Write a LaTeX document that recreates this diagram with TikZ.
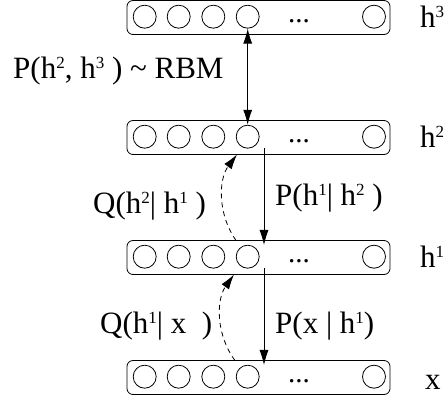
\documentclass[tikz,border=0pt]{standalone}
\usepackage{fontspec}
\setmainfont{Liberation Serif}
\usetikzlibrary{arrows.meta}
\newcommand\supr[1]{\raisebox{10pt}{\fontsize{17}{17}\selectfont #1}}
\begin{document}
\begin{tikzpicture}[x=1pt,y=-1pt,
 layer/.style={draw, rounded corners=6pt, minimum width=263pt, minimum height=34pt, inner sep=0pt, line width=0.8pt},
 unit/.style={draw, circle, minimum size=23pt, inner sep=0pt, line width=0.8pt},
 txt/.style={font=\fontsize{31}{34}\selectfont, inner sep=0pt, anchor=base west},
 dotsn/.style={font=\fontsize{29}{32}\selectfont, inner sep=0pt, anchor=base},
 tip/.style={-{Latex[length=15pt,width=9pt]}, line width=0.8pt},
 dbl/.style={{Latex[length=15pt,width=9pt]}-{Latex[length=15pt,width=9pt]}, line width=0.8pt},
 dtip/.style={tip, dash pattern=on 5pt off 4pt}
]
\useasboundingbox (0,0) rectangle (445,398);
\foreach \n/\yy in {3/0,2/120,1/240,0/360} {
  \node[layer] (L\n) at (258.5,17.5+\yy) {};
  \foreach \i/\xx in {1/144.7,2/178.7,3/213.3,4/247.7,5/374} {
    \node[unit] (c\n\i) at (\xx,16.7+\yy) {};
  }
  \node[dotsn] (d\n) at (299,23+\yy) {...};
}
% layer labels
\node[txt] (lh3) at (420,28) {h\supr{3}};
\node[txt] (lh2) at (420,148) {h\supr{2}};
\node[txt] (lh1) at (420,268) {h\supr{1}};
\node[txt] (lx) at (425,389) {x};
% RBM
\draw[dbl] (c34.south) -- (c24.north);
\node[txt] (rbm) at (13,79) {P(h\supr{2}, h\supr{3} ) \textasciitilde{} RBM};
% generative arrows
\coordinate (s2) at (264,148.5);
\coordinate (e1) at (264,245);
\draw[tip] (s2) -- (e1);
\coordinate (s1) at (264,268.5);
\coordinate (e0) at (264,365);
\draw[tip] (s1) -- (e0);
\node[txt] (p12) at (275,206) {P(h\supr{1}| h\supr{2} )};
\node[txt] (px1) at (275,334) {P(x | h\supr{1})};
% recognition arrows
\coordinate (q1) at (236,240.5);
\coordinate (q2) at (237,154.5);
\draw[dtip] (q1) .. controls (218,215) and (218,180) .. (q2);
\coordinate (r0) at (235,360.5);
\coordinate (r1) at (234,274.5);
\draw[dtip] (r0) .. controls (216,335) and (216,300) .. (r1);
\node[txt] (q21) at (93,214) {Q(h\supr{2}| h\supr{1} )};
\node[txt] (q1x) at (100,334) {Q(h\supr{1}| x~~)};
\end{tikzpicture}
\end{document}
